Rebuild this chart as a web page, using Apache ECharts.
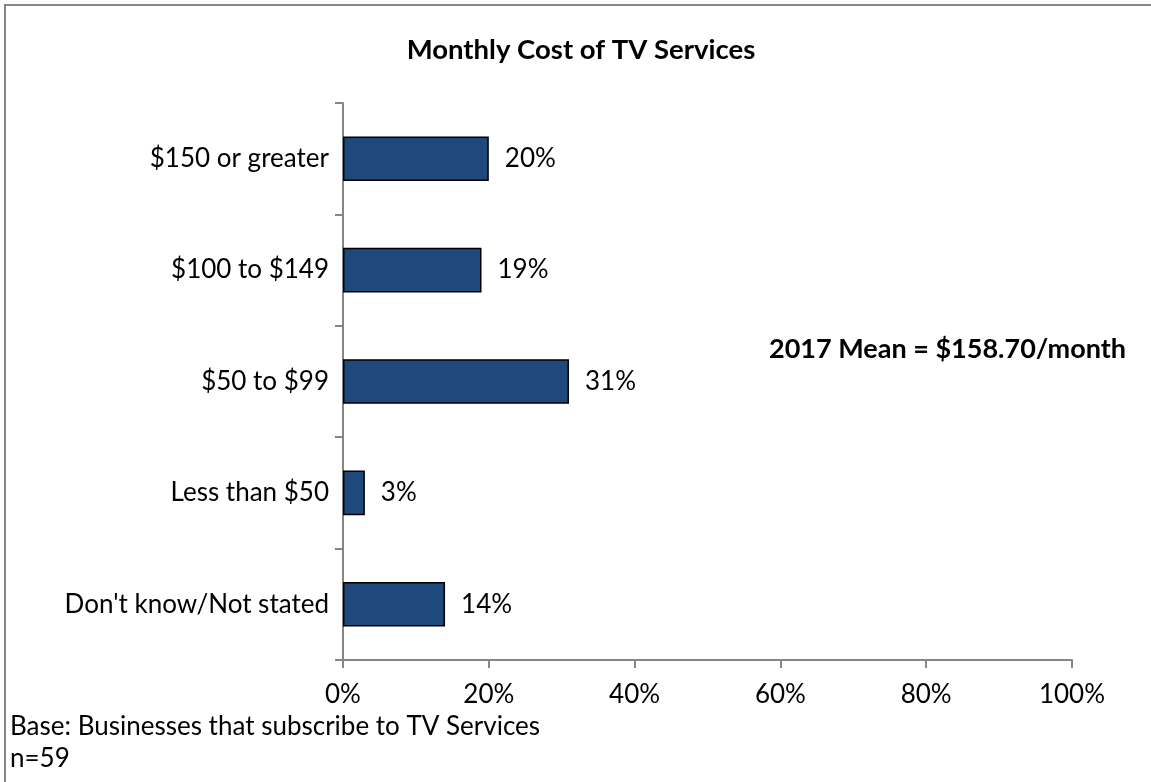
<!DOCTYPE html>
<html>
<head>
<meta charset="utf-8">
<script src="https://cdn.jsdelivr.net/npm/echarts@6/dist/echarts.min.js"></script>
<style>
  html, body { margin: 0; padding: 0; background: #fff; }
  #chart { width: 1151px; height: 782px; }
</style>
</head>
<body>
<div id="chart"></div>
<script>
// Monthly cost brackets, top to bottom
const categories = ["$150 or greater", "$100 to $149", "$50 to $99", "Less than $50", "Don't know/Not stated"];
// Share of businesses (%)
const shares = [20, 19, 31, 3, 14];
// Value axis ticks (%)
const xTicks = [0, 20, 40, 60, 80, 100];

const titleText = "Monthly Cost of TV Services";
const meanText = "2017 Mean = $158.70/month";
const baseText = "Base: Businesses that subscribe to TV Services";
const nText = "n=59";

const FONT = "Lato, 'Open Sans', sans-serif";
const axisGray = "#868686";

const chart = echarts.init(document.getElementById("chart"), null, { renderer: "canvas" });

chart.setOption({
  animation: false,
  backgroundColor: "#ffffff",
  title: {
    text: titleText,
    left: 576,
    top: 31,
    textAlign: "center",
    textStyle: { fontFamily: FONT, fontSize: 27.5, fontWeight: "bold", color: "#000" }
  },
  grid: { left: 343, right: 79, top: 103, bottom: 122, containLabel: false },
  xAxis: {
    type: "value",
    min: xTicks[0],
    max: xTicks[xTicks.length - 1],
    interval: xTicks[1] - xTicks[0],
    axisLine: { show: true, lineStyle: { color: axisGray, width: 2 } },
    axisTick: { show: true, length: 8, lineStyle: { color: axisGray, width: 2 } },
    splitLine: { show: false },
    axisLabel: {
      formatter: v => v + "%",
      fontFamily: FONT, fontSize: 26, color: "#000", margin: 22
    }
  },
  yAxis: {
    type: "category",
    data: categories,
    inverse: true,
    axisLine: { show: true, lineStyle: { color: axisGray, width: 2 } },
    axisTick: { show: true, length: 8, lineStyle: { color: axisGray, width: 2 } },
    axisLabel: { fontFamily: FONT, fontSize: 26, color: "#000", margin: 14 }
  },
  series: [{
    type: "bar",
    data: shares,
    barWidth: "40%",
    itemStyle: { color: "#1F497D", borderColor: "#000", borderWidth: 1.5 },
    label: {
      show: true,
      position: "right",
      distance: 16,
      formatter: p => p.value + "%",
      fontFamily: FONT, fontSize: 26, color: "#000"
    }
  }],
  graphic: [
    {
      type: "rect",
      shape: { x: 5, y: 5, width: 1200, height: 900 },
      style: { fill: "none", stroke: axisGray, lineWidth: 2 },
      silent: true
    },
    {
      type: "text",
      left: 769,
      top: 336,
      style: { text: meanText, fontFamily: FONT, fontSize: 27, fontWeight: "bold", fill: "#000" }
    },
    {
      type: "text",
      left: 10,
      top: 714,
      style: { text: baseText, fontFamily: FONT, fontSize: 26, fill: "#000" }
    },
    {
      type: "text",
      left: 10,
      top: 746,
      style: { text: nText, fontFamily: FONT, fontSize: 26, fill: "#000" }
    }
  ]
});
</script>
</body>
</html>
